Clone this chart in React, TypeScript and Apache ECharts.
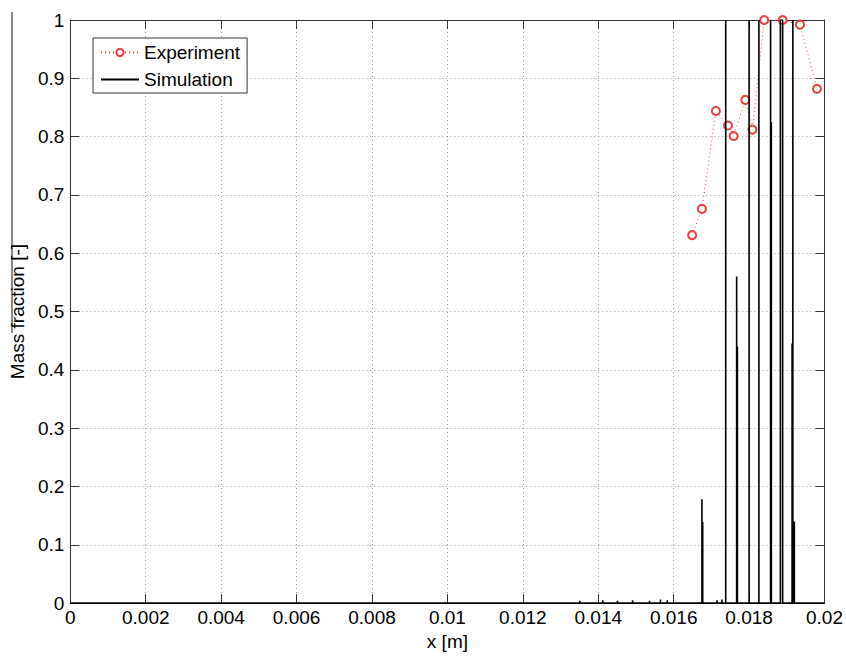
import React, { useEffect, useRef } from 'react';
import * as echarts from 'echarts';

// Experimental points (x [m], mass fraction)
const expX = [0.01649, 0.01675, 0.01712, 0.01744, 0.01759, 0.0179, 0.01809, 0.0184, 0.01889, 0.01935, 0.0198];
const expY = [0.631, 0.676, 0.844, 0.819, 0.801, 0.863, 0.812, 1.0, 1.0, 0.992, 0.882];

// Simulation profile: spikes on a zero baseline
const spikeX = [0.01351, 0.01412, 0.01451, 0.01491, 0.01536, 0.01565, 0.01583, 0.01675, 0.01677, 0.01715, 0.01728, 0.01738, 0.01767, 0.01769, 0.018, 0.01826, 0.01857, 0.01859, 0.01883, 0.01914, 0.01916, 0.0192];
const spikePeak = [0.004, 0.005, 0.004, 0.005, 0.004, 0.006, 0.005, 0.178, 0.139, 0.005, 0.006, 1, 0.56, 0.44, 1, 1, 1, 0.825, 1, 0.445, 1, 0.14];
const spikeWidth = [0, 0, 0, 0, 0, 0, 0, 0, 0, 0, 0, 0, 0, 0, 0, 0, 0, 0, 0.00006, 0, 0, 0];
const simStart = 0;
const simEnd = 0.02;

// Axis ticks
const xMin = 0;
const xMax = 0.02;
const xStep = 0.002;
const yMin = 0;
const yMax = 1;
const yStep = 0.1;

const FONT = '"Liberation Sans", Arial, Helvetica, sans-serif';

function buildSim(): number[][] {
  const pts: number[][] = [[simStart, 0]];
  spikeX.forEach((x, i) => {
    const p = spikePeak[i];
    const w = spikeWidth[i];
    pts.push([x, 0], [x, p], [x + w, p], [x + w, 0]);
  });
  pts.push([simEnd, 0]);
  return pts;
}

export default function App() {
  const ref = useRef<HTMLDivElement>(null);
  useEffect(() => {
    const chart = echarts.init(ref.current!, null, { renderer: 'svg' });
    const axisLine = { show: true, onZero: false, lineStyle: { color: '#333', width: 1 } };
    const tick = { show: true, inside: true, length: 9, lineStyle: { color: '#333', width: 1 } };
    const split = { show: true, lineStyle: { color: '#999', width: 1, type: [1, 3] as any } };
    chart.setOption({
      animation: false,
      backgroundColor: '#fff',
      textStyle: { fontFamily: FONT },
      grid: { left: 68, right: 20, top: 20, bottom: 47, containLabel: false },
      legend: {
        data: ['Experiment', { name: 'Simulation', itemStyle: { opacity: 0 } }],
        orient: 'vertical',
        left: 93,
        top: 38,
        backgroundColor: '#fff',
        borderColor: '#333',
        borderWidth: 1,
        borderRadius: 0,
        padding: [5, 7, 4, 7],
        itemGap: 8,
        itemWidth: 38,
        itemHeight: 9,
        textStyle: { fontSize: 19, color: '#000', fontFamily: FONT },
      },
      xAxis: [
        {
          type: 'value',
          min: xMin,
          max: xMax,
          interval: xStep,
          position: 'bottom',
          name: 'x [m]',
          nameLocation: 'middle',
          nameGap: 27,
          nameTextStyle: { fontSize: 19, color: '#000', fontFamily: FONT },
          axisLine,
          axisTick: tick,
          splitLine: split,
          axisLabel: { fontSize: 19, color: '#000', margin: 5, fontFamily: FONT },
        },
        {
          type: 'value',
          min: xMin,
          max: xMax,
          interval: xStep,
          position: 'top',
          axisLine,
          axisTick: tick,
          splitLine: { show: false },
          axisLabel: { show: false },
        },
      ],
      yAxis: [
        {
          type: 'value',
          min: yMin,
          max: yMax,
          interval: yStep,
          position: 'left',
          name: 'Mass fraction [-]',
          nameLocation: 'middle',
          nameGap: 41,
          nameTextStyle: { fontSize: 19, color: '#000', fontFamily: FONT },
          axisLine,
          axisTick: tick,
          splitLine: split,
          axisLabel: { fontSize: 19, color: '#000', margin: 6, fontFamily: FONT },
        },
        {
          type: 'value',
          min: yMin,
          max: yMax,
          interval: yStep,
          position: 'right',
          axisLine,
          axisTick: tick,
          splitLine: { show: false },
          axisLabel: { show: false },
        },
      ],
      series: [
        {
          name: 'Experiment',
          type: 'line',
          data: expX.map((x, i) => [x, expY[i]]),
          symbol: 'emptyCircle',
          symbolSize: 8,
          showSymbol: true,
          itemStyle: { color: '#e8403a', borderWidth: 1 },
          lineStyle: { color: '#e8403a', width: 1, type: [1, 3] },
          z: 2,
        },
        {
          name: 'Simulation',
          type: 'line',
          data: buildSim(),
          symbol: 'none',
          showSymbol: false,
          itemStyle: { color: '#000' },
          lineStyle: { color: '#000', width: 1.6 },
          z: 3,
        },
      ],
      graphic: [
        {
          type: 'line',
          shape: { x1: 12, y1: 12, x2: 12, y2: 333 },
          style: { stroke: '#888', lineWidth: 2 },
          silent: true,
        },
      ],
    });
    return () => chart.dispose();
  }, []);
  return (
    <div
      ref={ref}
      style={{ position: 'absolute', left: 0, top: 0, width: 846, height: 656, background: '#fff' }}
    />
  );
}
